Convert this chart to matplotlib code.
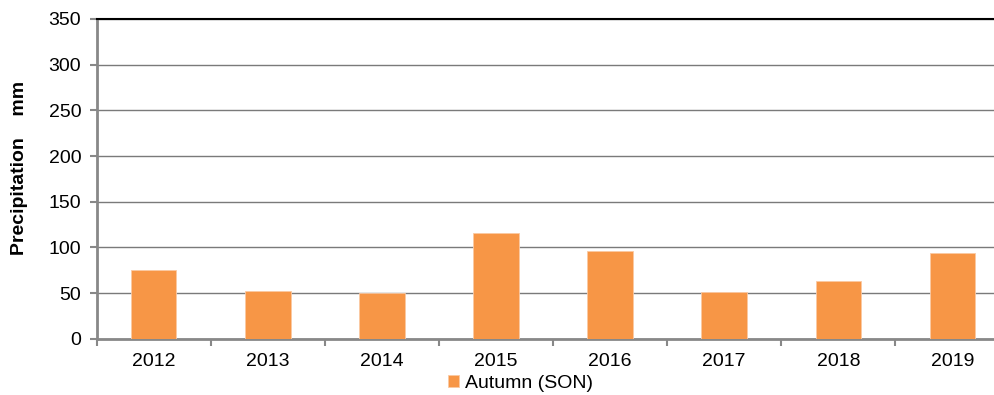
import matplotlib.pyplot as plt
import numpy as np

years = ['2012', '2013', '2014', '2015', '2016', '2017', '2018', '2019']
autumn_son = [75, 52.5, 50.5, 115.5, 96.5, 51.5, 63.5, 93.5]

plt.rcParams['font.family'] = ['Liberation Sans', 'DejaVu Sans']

fig = plt.figure(figsize=(9.95, 3.95), dpi=100)
# plot area runs a little past the right edge of the canvas
ax = fig.add_axes([0.097, 0.142, 0.9176, 0.81])

x = np.arange(len(years))
ax.bar(x, autumn_son, width=0.4, color='#F79646', edgecolor='#FBC9A3',
       linewidth=0.6, label='Autumn (SON)', zorder=3)

ax.set_xlim(-0.5, len(years) - 0.5)
ax.set_ylim(0, 350)
ax.set_yticks(range(0, 351, 50))
ax.set_xticks(x)
ax.set_xticklabels(years)
# tick marks sit between categories
ax.set_xticks(np.arange(-0.5, len(years), 1), minor=True)
ax.tick_params(axis='x', which='major', length=0, pad=10, labelsize=14)
ax.tick_params(axis='x', which='minor', length=5, width=1.5, color='#888888')
ax.tick_params(axis='y', length=5, width=1.5, color='#888888', labelsize=14, pad=6)

ax.yaxis.grid(True, color='#7a7a7a', linewidth=1.0, zorder=0)
for s in ['left', 'bottom']:
    ax.spines[s].set_color('#888888')
    ax.spines[s].set_linewidth(2)
ax.spines['right'].set_visible(False)
ax.spines['top'].set_color('black')
ax.spines['top'].set_linewidth(1.5)

fig.text(20 / 995, 1 - 168 / 395, 'Precipitation    mm', rotation=90,
         ha='center', va='center', fontsize=14, fontweight='bold')

fig.legend(loc='center', bbox_to_anchor=(0.523, 0.03), frameon=False,
           fontsize=14, handlelength=0.55, handleheight=0.55, handletextpad=0.3,
           borderpad=0.1)

fig.savefig('out.png', dpi=100)
